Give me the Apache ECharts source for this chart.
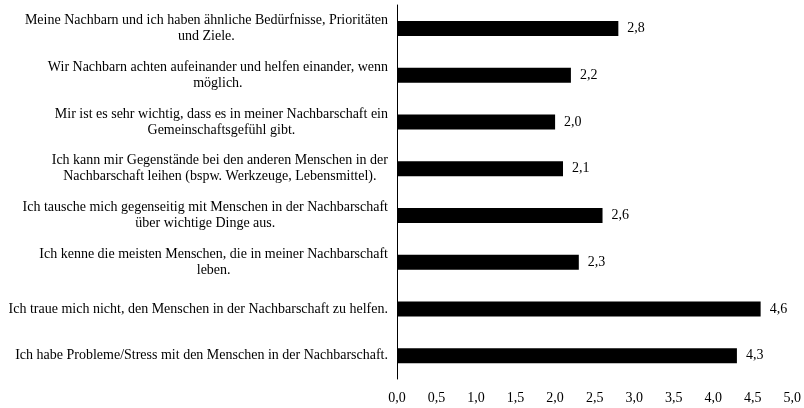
<!DOCTYPE html>
<html>
<head>
<meta charset="utf-8">
<script src="https://cdn.jsdelivr.net/npm/echarts@6/dist/echarts.min.js"></script>
<style>
  html, body { margin: 0; padding: 0; background: #fff; }
  #chart { width: 804px; height: 408px; }
</style>
</head>
<body>
<div id="chart"></div>
<script>
// Statements, listed top to bottom as they appear on the chart
const statements = [
  'Meine Nachbarn und ich haben ähnliche Bedürfnisse, Prioritäten\nund Ziele.',
  'Wir Nachbarn achten aufeinander und helfen einander, wenn\nmöglich.',
  'Mir ist es sehr wichtig, dass es in meiner Nachbarschaft ein\nGemeinschaftsgefühl gibt.',
  'Ich kann mir Gegenstände bei den anderen Menschen in der\nNachbarschaft leihen (bspw. Werkzeuge, Lebensmittel).',
  'Ich tausche mich gegenseitig mit Menschen in der Nachbarschaft\nüber wichtige Dinge aus.',
  'Ich kenne die meisten Menschen, die in meiner Nachbarschaft\nleben.',
  'Ich traue mich nicht, den Menschen in der Nachbarschaft zu helfen.',
  'Ich habe Probleme/Stress mit den Menschen in der Nachbarschaft.'
];

// Mean agreement per statement
const meanValues = [2.8, 2.2, 2.0, 2.1, 2.6, 2.3, 4.6, 4.3];

// Value axis range and step
const axisMin = 0;
const axisMax = 5;
const axisStep = 0.5;

const fmt = v => Number(v).toFixed(1).replace('.', ',');
const FONT = '"Liberation Serif", "Times New Roman", serif';

const chart = echarts.init(document.getElementById('chart'), null, { renderer: 'canvas' });

chart.setOption({
  backgroundColor: '#ffffff',
  animation: false,
  grid: { left: 397, right: 11, top: 5, bottom: 29, containLabel: false },
  xAxis: {
    type: 'value',
    min: axisMin,
    max: axisMax,
    interval: axisStep,
    axisLine: { show: false },
    axisTick: { show: false },
    splitLine: { show: false },
    axisLabel: {
      margin: 12,
      color: '#000',
      fontFamily: FONT,
      fontSize: 14,
      formatter: fmt
    }
  },
  yAxis: {
    type: 'category',
    inverse: true,
    data: statements,
    axisLine: { show: true, lineStyle: { color: '#000', width: 1 } },
    axisTick: { show: false },
    splitLine: { show: false },
    axisLabel: {
      margin: 9,
      color: '#000',
      fontFamily: FONT,
      fontSize: 14,
      lineHeight: 16,
      formatter: s => s.split('\n').map(l => '{c|' + l + '}').join('\n'),
      rich: {
        c: { align: 'center', color: '#000', fontFamily: FONT, fontSize: 14, lineHeight: 16 }
      }
    }
  },
  series: [{
    type: 'bar',
    data: meanValues,
    barWidth: 15,
    itemStyle: { color: '#000' },
    label: {
      show: true,
      position: 'right',
      distance: 9,
      color: '#000',
      fontFamily: FONT,
      fontSize: 14,
      formatter: p => fmt(p.value)
    }
  }]
});
</script>
</body>
</html>
